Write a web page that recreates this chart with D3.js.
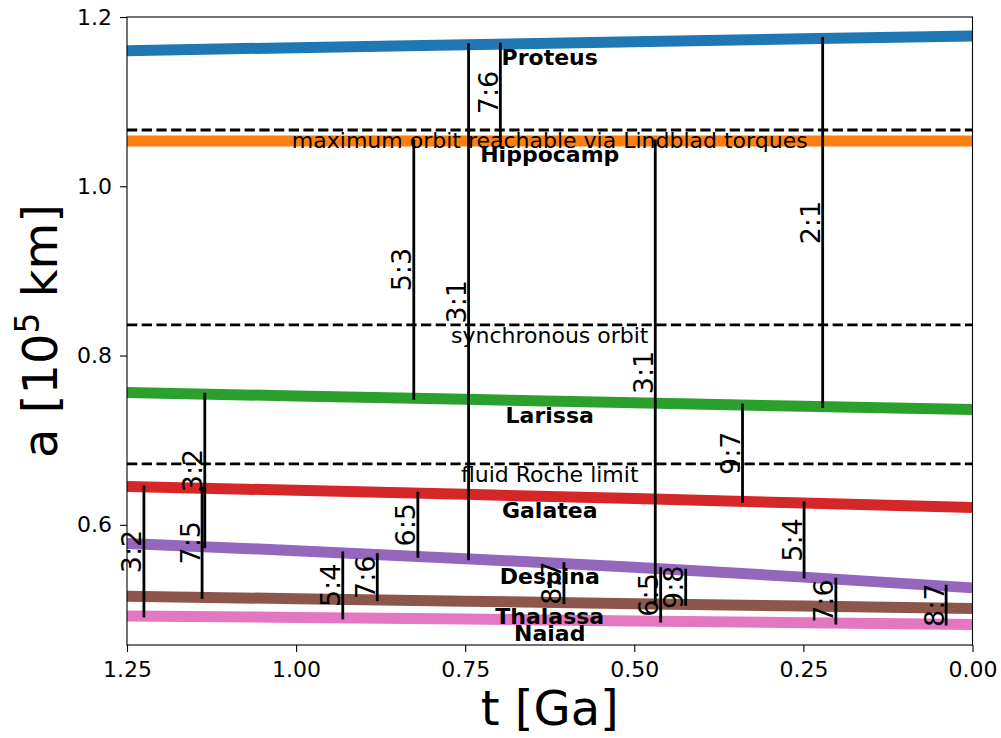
<!DOCTYPE html>
<html>
<head>
<meta charset="utf-8">
<script src="https://cdn.jsdelivr.net/npm/d3@7"></script>
<style>
  body { margin: 0; background: #fff; }
  svg { display: block; }
  text { font-family: "DejaVu Sans", sans-serif; fill: #000; }
</style>
</head>
<body>
<svg id="chart" width="1001" height="738"></svg>
<script>
// Semi-major axes of Neptune's inner moons [10^5 km] versus time before present [Ga]
const times     = [1.25, 1.0, 0.75, 0.5, 0.25, 0.0];
const proteus   = [1.1602, 1.1638, 1.1673, 1.1708, 1.1742, 1.1776];
const hippocamp = [1.0535, 1.0535, 1.0535, 1.0535, 1.0535, 1.0535];
const larissa   = [0.7562, 0.7523, 0.7483, 0.7442, 0.7400, 0.7362];
const galatea   = [0.6452, 0.6408, 0.6360, 0.6310, 0.6258, 0.6205];
const despina   = [0.5780, 0.5695, 0.5600, 0.5500, 0.5382, 0.5255];
const thalassa  = [0.5155, 0.5127, 0.5098, 0.5068, 0.5040, 0.5012];
const naiad     = [0.4924, 0.4905, 0.4886, 0.4865, 0.4844, 0.4823];

const moonNames  = ["Proteus", "Hippocamp", "Larissa", "Galatea", "Despina", "Thalassa", "Naiad"];
const moonSeries = [proteus, hippocamp, larissa, galatea, despina, thalassa, naiad];
const moonColors = ["#1f77b4", "#ff7f0e", "#2ca02c", "#d62728", "#9467bd", "#8c564b", "#e377c2"];

// Reference orbits
const limitNames  = ["maximum orbit reachable via Lindblad torques", "synchronous orbit", "fluid Roche limit"];
const limitValues = [1.0665, 0.8362, 0.6719];

// Mean-motion resonance crossings: time, outer moon, inner moon, period ratio
const resTimes  = [1.225, 1.135, 1.139, 0.931, 0.880, 0.826, 0.820, 0.745, 0.698,
                   0.604, 0.469, 0.461, 0.424, 0.340, 0.249, 0.2215, 0.202, 0.039];
const resOuter  = ["Galatea", "Larissa", "Galatea", "Despina", "Despina", "Hippocamp", "Galatea", "Proteus", "Proteus",
                   "Despina", "Hippocamp", "Despina", "Despina", "Larissa", "Galatea", "Proteus", "Despina", "Despina"];
const resInner  = ["Naiad", "Despina", "Thalassa", "Naiad", "Thalassa", "Larissa", "Despina", "Despina", "Hippocamp",
                   "Thalassa", "Thalassa", "Naiad", "Thalassa", "Galatea", "Despina", "Larissa", "Naiad", "Naiad"];
const resLabels = ["3:2", "3:2", "7:5", "5:4", "7:6", "5:3", "6:5", "3:1", "7:6",
                   "8:7", "3:1", "6:5", "9:8", "9:7", "5:4", "2:1", "7:6", "8:7"];

const xTicks = [1.25, 1.0, 0.75, 0.5, 0.25, 0.0];
const yTicks = [0.6, 0.8, 1.0, 1.2];
const nameLabelTime = 0.625;

const svg = d3.select("#chart");
const W = 1001, H = 738;
const margin = { top: 17, right: 28.5, bottom: 93, left: 127 };
const iw = W - margin.left - margin.right;
const ih = H - margin.top - margin.bottom;

const x = d3.scaleLinear().domain([1.25, 0.0]).range([margin.left, margin.left + iw]);
const y = d3.scaleLinear().domain([0.458, 1.2]).range([margin.top + ih, margin.top]);

// Piecewise interpolators for each moon's orbit
const orbitAt = {};
moonNames.forEach((n, i) => {
  orbitAt[n] = d3.scaleLinear().domain(times).range(moonSeries[i]);
});

svg.append("defs").append("clipPath").attr("id", "plotArea")
  .append("rect").attr("x", margin.left).attr("y", margin.top).attr("width", iw).attr("height", ih);

const plot = svg.append("g").attr("clip-path", "url(#plotArea)");

// Orbit tracks
const line = d3.line().x(d => x(d[0])).y(d => y(d[1]));
moonSeries.forEach((vals, i) => {
  plot.append("path")
    .datum(times.map((t, j) => [t, vals[j]]))
    .attr("d", line)
    .attr("fill", "none")
    .attr("stroke", moonColors[i])
    .attr("stroke-width", 11)
    .attr("stroke-linecap", "butt");
});

// Dashed reference orbits
limitValues.forEach(v => {
  plot.append("line")
    .attr("x1", x(1.25)).attr("x2", x(0))
    .attr("y1", y(v)).attr("y2", y(v))
    .attr("stroke", "#000")
    .attr("stroke-width", 2.8)
    .attr("stroke-dasharray", "10.3,4.4");
});

// Resonance connectors
resTimes.forEach((t, i) => {
  const y1 = y(orbitAt[resOuter[i]](t));
  const y2 = y(orbitAt[resInner[i]](t));
  plot.append("line")
    .attr("x1", x(t)).attr("x2", x(t))
    .attr("y1", y1).attr("y2", y2)
    .attr("stroke", "#000")
    .attr("stroke-width", 2.8)
    .attr("stroke-linecap", "square");
});

// Axes frame
svg.append("rect")
  .attr("x", margin.left).attr("y", margin.top)
  .attr("width", iw).attr("height", ih)
  .attr("fill", "none").attr("stroke", "#000").attr("stroke-width", 1.1);

const xAxis = svg.append("g")
  .attr("transform", `translate(0,${margin.top + ih})`)
  .call(d3.axisBottom(x).tickValues(xTicks).tickFormat(d3.format(".2f")).tickSize(7).tickPadding(9));
const yAxis = svg.append("g")
  .attr("transform", `translate(${margin.left},0)`)
  .call(d3.axisLeft(y).tickValues(yTicks).tickFormat(d3.format(".1f")).tickSize(7).tickPadding(8));

[xAxis, yAxis].forEach(g => {
  g.select(".domain").remove();
  g.selectAll(".tick line").attr("stroke", "#000").attr("stroke-width", 1.1);
  g.selectAll(".tick text")
    .style("font-family", '"DejaVu Sans", sans-serif')
    .style("font-size", "22px")
    .attr("fill", "#000");
});

// Reference orbit captions
limitNames.forEach((name, i) => {
  svg.append("text")
    .attr("x", x(nameLabelTime))
    .attr("y", y(limitValues[i]) + 18)
    .attr("text-anchor", "middle")
    .style("font-size", "22px")
    .text(name);
});

// Resonance ratio labels, written vertically beside each connector
resTimes.forEach((t, i) => {
  const y1 = y(orbitAt[resOuter[i]](t));
  const y2 = y(orbitAt[resInner[i]](t));
  svg.append("text")
    .attr("transform", `translate(${x(t) - 2.5},${(y1 + y2) / 2}) rotate(-90)`)
    .attr("text-anchor", "middle")
    .style("font-size", "27px")
    .text(resLabels[i]);
});

// Moon names
moonNames.forEach(n => {
  svg.append("text")
    .attr("x", x(nameLabelTime))
    .attr("y", y(orbitAt[n](nameLabelTime)) + 21.5)
    .attr("text-anchor", "middle")
    .style("font-size", "22px")
    .style("font-weight", "bold")
    .text(n);
});

// Axis titles
svg.append("text")
  .attr("x", margin.left + iw / 2)
  .attr("y", 725)
  .attr("text-anchor", "middle")
  .style("font-size", "48px")
  .text("t [Ga]");

const yTitle = svg.append("text")
  .attr("transform", `translate(57,${margin.top + ih / 2}) rotate(-90)`)
  .attr("text-anchor", "middle")
  .style("font-size", "48px");
yTitle.append("tspan").text("a [10");
yTitle.append("tspan").attr("dy", -18).style("font-size", "33px").text("5");
yTitle.append("tspan").attr("dy", 18).text(" km]");
</script>
</body>
</html>
